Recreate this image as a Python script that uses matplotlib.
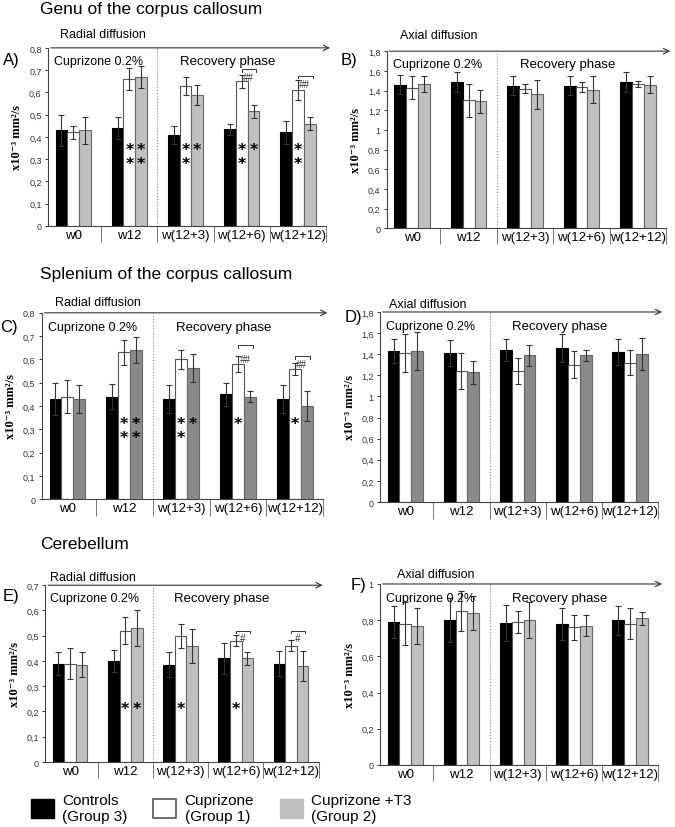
import numpy as np
import matplotlib
matplotlib.use('Agg')
import matplotlib.pyplot as plt
from matplotlib.patches import Patch
from matplotlib.ticker import FuncFormatter

plt.rcParams['font.family'] = ['Liberation Sans', 'DejaVu Sans']

# data
weeks = ['w0', 'w12', 'w(12+3)', 'w(12+6)', 'w(12+12)']
groups = ['Controls\n(Group 3)', 'Cuprizone\n(Group 1)', 'Cuprizone +T3\n(Group 2)']

# A) genu radial
genu_rd_ctrl = [0.43, 0.44, 0.41, 0.435, 0.42]
genu_rd_cup = [0.42, 0.66, 0.63, 0.65, 0.61]
genu_rd_t3 = [0.43, 0.67, 0.59, 0.515, 0.46]
genu_rd_ctrl_err = [0.07, 0.05, 0.04, 0.025, 0.05]
genu_rd_cup_err = [0.03, 0.05, 0.04, 0.03, 0.045]
genu_rd_t3_err = [0.06, 0.05, 0.045, 0.03, 0.03]

# B) genu axial
genu_ad_ctrl = [1.46, 1.49, 1.45, 1.45, 1.49]
genu_ad_cup = [1.43, 1.30, 1.42, 1.44, 1.47]
genu_ad_t3 = [1.47, 1.29, 1.36, 1.41, 1.46]
genu_ad_ctrl_err = [0.10, 0.10, 0.10, 0.10, 0.10]
genu_ad_cup_err = [0.12, 0.17, 0.05, 0.05, 0.03]
genu_ad_t3_err = [0.08, 0.12, 0.15, 0.14, 0.09]

# C) splenium radial
splen_rd_ctrl = [0.43, 0.44, 0.43, 0.45, 0.43]
splen_rd_cup = [0.44, 0.63, 0.60, 0.58, 0.56]
splen_rd_t3 = [0.43, 0.64, 0.565, 0.44, 0.40]
splen_rd_ctrl_err = [0.07, 0.055, 0.06, 0.05, 0.06]
splen_rd_cup_err = [0.07, 0.055, 0.04, 0.035, 0.025]
splen_rd_t3_err = [0.06, 0.055, 0.06, 0.025, 0.065]

# D) splenium axial
splen_ad_ctrl = [1.43, 1.41, 1.44, 1.46, 1.42]
splen_ad_cup = [1.41, 1.24, 1.24, 1.30, 1.32]
splen_ad_t3 = [1.43, 1.23, 1.39, 1.39, 1.40]
splen_ad_ctrl_err = [0.11, 0.12, 0.10, 0.13, 0.12]
splen_ad_cup_err = [0.18, 0.17, 0.12, 0.13, 0.12]
splen_ad_t3_err = [0.18, 0.11, 0.10, 0.05, 0.15]

# E) cerebellum radial
cereb_rd_ctrl = [0.39, 0.40, 0.385, 0.41, 0.39]
cereb_rd_cup = [0.39, 0.52, 0.50, 0.48, 0.46]
cereb_rd_t3 = [0.385, 0.53, 0.46, 0.41, 0.38]
cereb_rd_ctrl_err = [0.045, 0.043, 0.05, 0.062, 0.05]
cereb_rd_cup_err = [0.06, 0.053, 0.048, 0.022, 0.022]
cereb_rd_t3_err = [0.05, 0.07, 0.067, 0.025, 0.06]

# F) cerebellum axial
cereb_ad_ctrl = [0.79, 0.80, 0.785, 0.78, 0.80]
cereb_ad_cup = [0.78, 0.85, 0.79, 0.76, 0.78]
cereb_ad_t3 = [0.77, 0.84, 0.80, 0.77, 0.81]
cereb_ad_ctrl_err = [0.09, 0.12, 0.10, 0.09, 0.08]
cereb_ad_cup_err = [0.12, 0.11, 0.06, 0.07, 0.085]
cereb_ad_t3_err = [0.10, 0.095, 0.10, 0.06, 0.035]

# significance marks: (week index, bar index, number of stars)
genu_rd_stars = [(1, 1, 2), (1, 2, 2), (2, 1, 2), (2, 2, 1), (3, 1, 2), (3, 2, 1), (4, 1, 2)]
splen_rd_stars = [(1, 1, 2), (1, 2, 2), (2, 1, 2), (2, 2, 1), (3, 1, 1), (4, 1, 1)]
cereb_rd_stars = [(1, 1, 1), (1, 2, 1), (2, 1, 1), (3, 1, 1)]
# cuprizone vs T3 marks: (week index, label)
genu_rd_hash = [(3, '##'), (4, '##')]
splen_rd_hash = [(3, '##'), (4, '##')]
cereb_rd_hash = [(3, '#'), (4, '#')]

fig = plt.figure(figsize=(6.75, 8.28), dpi=100)

light = '#c0c0c0'
dark = '#8a8a8a'

panels = [
    dict(rect=[0.071, 0.726, 0.422, 0.215], lab='A)', lab_xy=(0.004, 0.927),
         sub='Radial diffusion', sub_xy=(0.089, 0.958), ymax=0.8, step=0.1,
         vals=(genu_rd_ctrl, genu_rd_cup, genu_rd_t3),
         errs=(genu_rd_ctrl_err, genu_rd_cup_err, genu_rd_t3_err), gray=light,
         stars=genu_rd_stars, star_y=0.375, hashes=genu_rd_hash,
         br_y=[0.705, 0.675], hash_y=[0.668, 0.638]),
    dict(rect=[0.573, 0.723, 0.424, 0.214], lab='B)', lab_xy=(0.505, 0.927),
         sub='Axial diffusion', sub_xy=(0.593, 0.957), ymax=1.8, step=0.2,
         vals=(genu_ad_ctrl, genu_ad_cup, genu_ad_t3),
         errs=(genu_ad_ctrl_err, genu_ad_cup_err, genu_ad_t3_err), gray=light),
    dict(rect=[0.062, 0.396, 0.427, 0.225], lab='C)', lab_xy=(0.0, 0.604),
         sub='Radial diffusion', sub_xy=(0.081, 0.634), ymax=0.8, step=0.1,
         vals=(splen_rd_ctrl, splen_rd_cup, splen_rd_t3),
         errs=(splen_rd_ctrl_err, splen_rd_cup_err, splen_rd_t3_err), gray=dark,
         stars=splen_rd_stars, star_y=0.355, hashes=splen_rd_hash,
         br_y=[0.66, 0.615], hash_y=[0.6, 0.58]),
    dict(rect=[0.563, 0.3925, 0.422, 0.2295], lab='D)', lab_xy=(0.51, 0.617),
         sub='Axial diffusion', sub_xy=(0.576, 0.632), ymax=1.8, step=0.2,
         vals=(splen_ad_ctrl, splen_ad_cup, splen_ad_t3),
         errs=(splen_ad_ctrl_err, splen_ad_cup_err, splen_ad_t3_err), gray=dark),
    dict(rect=[0.067, 0.0785, 0.415, 0.2135], lab='E)', lab_xy=(0.004, 0.279),
         sub='Radial diffusion', sub_xy=(0.074, 0.302), ymax=0.7, step=0.1,
         vals=(cereb_rd_ctrl, cereb_rd_cup, cereb_rd_t3),
         errs=(cereb_rd_ctrl_err, cereb_rd_cup_err, cereb_rd_t3_err), gray=light,
         stars=cereb_rd_stars, star_y=0.24, hashes=cereb_rd_hash,
         br_y=[0.52, 0.52], hash_y=[0.492, 0.492]),
    dict(rect=[0.563, 0.075, 0.422, 0.2185], lab='F)', lab_xy=(0.52, 0.293),
         sub='Axial diffusion', sub_xy=(0.588, 0.306), ymax=1.0, step=0.2,
         vals=(cereb_ad_ctrl, cereb_ad_cup, cereb_ad_t3),
         errs=(cereb_ad_ctrl_err, cereb_ad_cup_err, cereb_ad_t3_err), gray=light),
]

x = np.arange(len(weeks))
w = 0.21
fmt = FuncFormatter(lambda v, p: ('%g' % round(v, 2)).replace('.', ','))

for p in panels:
    ax = fig.add_axes(p['rect'])
    faces = ['black', 'white', p['gray']]
    edges = ['black', '#555555', '#666666']
    for i in range(3):
        ax.bar(x + (i - 1) * w, p['vals'][i], w, yerr=p['errs'][i], color=faces[i],
               edgecolor=edges[i], linewidth=0.8, capsize=2,
               error_kw=dict(elinewidth=0.8, capthick=0.8, ecolor='#333333'), zorder=2)
    ax.set_xlim(-0.45, 4.62)
    ax.set_ylim(0, p['ymax'])
    ax.set_yticks(np.arange(0, p['ymax'] + 1e-6, p['step']))
    ax.yaxis.set_major_formatter(fmt)
    ax.tick_params(axis='y', labelsize=6.5, length=2.5, width=0.7, colors='#333333', pad=2)
    ax.set_xticks(x)
    ax.set_xticklabels(weeks, fontsize=9.5)
    ax.tick_params(axis='x', length=0, pad=2)
    for s in ['top', 'right']:
        ax.spines[s].set_visible(False)
    ax.spines['left'].set_color('#444444')
    ax.spines['bottom'].set_color('#444444')
    ax.spines['bottom'].set_bounds(-0.45, 4.5)
    # separators between weeks
    ax.vlines(np.arange(-0.5, 5, 1)[1:], 0, -0.09, transform=ax.get_xaxis_transform(),
              color='#777777', lw=0.7, clip_on=False)
    # dotted line between treatment and recovery
    ax.axvline(1.5, color='#888888', lw=0.8, ls=':', zorder=1)
    # arrow along the top
    ax.annotate('', xy=(1.0, 1.0), xytext=(0.0, 1.0), xycoords='axes fraction',
                arrowprops=dict(arrowstyle='->', color='#333333', lw=0.8))
    ax.text(0.45, 0.925, 'Cuprizone 0.2%', fontsize=9, ha='center', va='center',
            transform=ax.get_xaxis_transform())
    ax.text(2.75, 0.925, 'Recovery phase', fontsize=9.5, ha='center', va='center',
            transform=ax.get_xaxis_transform())
    fig.text(p['sub_xy'][0], p['sub_xy'][1], p['sub'], fontsize=9, ha='left', va='center')
    fig.text(p['lab_xy'][0], p['lab_xy'][1], p['lab'], fontsize=12, ha='left', va='center')
    ax.set_ylabel('x10\u207b\u00b3 mm\u00b2/s', family=['Liberation Serif', 'DejaVu Serif'],
                  fontweight='bold', fontsize=9, labelpad=4)
    for wk, b, n in p.get('stars', []):
        ax.text(x[wk] + (b - 1) * w, p['star_y'], '\n'.join(['*'] * n), fontsize=11.5,
                ha='center', va='top', fontweight='bold', linespacing=0.85,
                family='DejaVu Sans')
    for j, (wk, lab) in enumerate(p.get('hashes', [])):
        y0 = p['br_y'][j]
        x0, x1 = x[wk], x[wk] + w + 0.05
        ax.plot([x0, x0, x1, x1], [y0 - p['ymax'] * 0.015, y0, y0, y0 - p['ymax'] * 0.015],
                color='#333333', lw=0.7)
        ax.text(x[wk] + 0.12, p['hash_y'][j], lab, fontsize=7, ha='center', va='center',
                style='italic', color='#333333')

# section titles
fig.text(0.059, 0.988, 'Genu of the corpus callosum', fontsize=12.5, va='center')
fig.text(0.059, 0.668, 'Splenium of the corpus callosum', fontsize=12.5, va='center')
fig.text(0.059, 0.342, 'Cerebellum', fontsize=12.5, va='center')

handles = [Patch(facecolor='black', edgecolor='black'),
           Patch(facecolor='white', edgecolor='#555555', linewidth=1.2),
           Patch(facecolor=light, edgecolor=light)]
fig.legend(handles, groups, loc='lower left', bbox_to_anchor=(0.025, -0.012), ncol=3,
           frameon=False, prop=dict(family=['Liberation Sans Narrow', 'Liberation Sans'], size=11),
           handlelength=1.5, handleheight=1.5, columnspacing=1.7, handletextpad=0.55,
           labelspacing=0.1)

fig.savefig('out.png', dpi=100)
